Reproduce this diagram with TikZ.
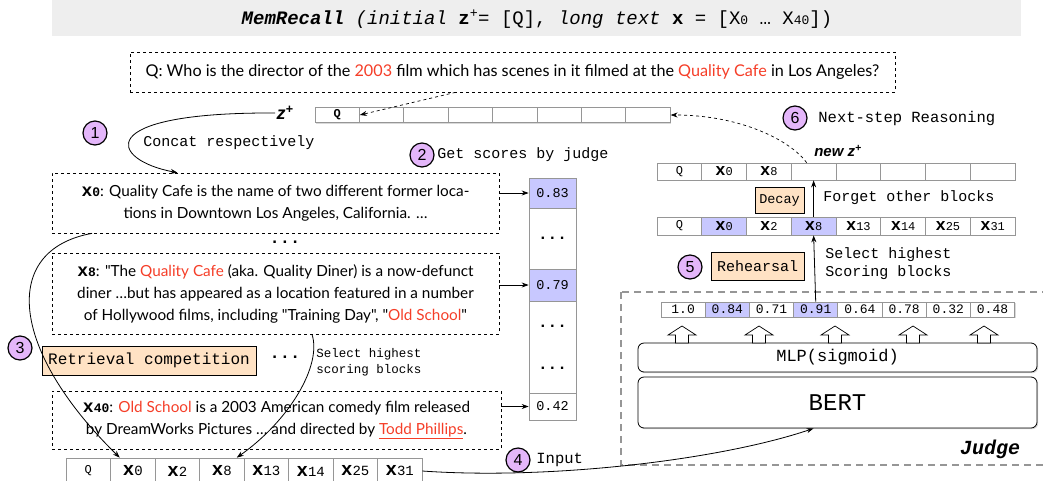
\documentclass[tikz,border=0pt]{standalone}
\usepackage{fontspec}
\setmainfont{Lato}
\setsansfont{Liberation Sans}
\setmonofont{Liberation Mono}
\newfontfamily\bodyfont{Lato}
\usetikzlibrary{arrows.meta,shadows}
\definecolor{qred}{RGB}{245,62,40}
\definecolor{lav}{RGB}{200,200,255}
\definecolor{peach}{RGB}{255,226,196}
\definecolor{stepfill}{RGB}{228,182,250}
\definecolor{titlegray}{RGB}{238,238,238}
\definecolor{cellgray}{RGB}{150,150,150}
\newcommand{\fsz}[1]{\fontsize{#1}{#1}\selectfont}
\newcommand{\xtok}[1]{{\ttfamily{\bfseries\fsz{17}x}{\fsz{12}#1}}}
\newcommand{\xbig}[1]{{\ttfamily{\bfseries\fsz{19}x}{\fsz{14}#1}}}
\newcommand{\xlab}[1]{{\ttfamily\bfseries{\fsz{18}x}{\fsz{13}#1}}}
\begin{document}
\begin{tikzpicture}[x=1pt,y=-1pt,line width=0.8pt,>={Stealth[length=7pt,width=5pt]},
    cell/.style={draw=cellgray,line width=0.7pt,fill=white,inner sep=0pt,
      minimum width=44.5pt,minimum height=17pt,font=\ttfamily\fsz{12}},
    shade/.style={drop shadow={shadow xshift=1.2pt,shadow yshift=-1.2pt,opacity=0.3}},
    txtbox/.style={draw,dashed,line width=0.7pt,inner sep=0pt,align=center,
      font=\bodyfont\fontsize{15.3}{22}\selectfont},
    stepnum/.style={circle,draw,line width=1.2pt,fill=stepfill,minimum size=24pt,
      inner sep=0pt,font=\sffamily\fsz{16}},
    note/.style={anchor=west,inner sep=0pt,font=\ttfamily\fsz{15}},
    tag/.style={draw,line width=0.8pt,fill=peach,inner sep=0pt,font=\ttfamily\fsz{15}},
    layer/.style={draw,line width=0.8pt,fill=white,rounded corners=6pt,
      minimum width=399pt,shade}]
\useasboundingbox (0,0) rectangle (1043,480);

% title
\fill[titlegray] (52,0) rectangle (1021,36);
\node[font=\ttfamily\fsz{19}] (title) at (537,19) {{\bfseries\itshape MemRecall} {\itshape(initial} {\bfseries z}\textsuperscript{+}= [Q], {\itshape long text} {\bfseries x} = [X{\fsz{13}0} … X{\fsz{13}40}])};

% question and memory z+
\node[txtbox,minimum width=765pt,minimum height=40pt,font=\bodyfont\fsz{16.2}] (qbox) at (512.5,72) {Q: Who is the director of the \textcolor{qred}{2003} film which has scenes in it filmed at the \textcolor{qred}{Quality Cafe} in Los Angeles?};
\node[font=\sffamily\bfseries\itshape\fsz{18},inner sep=1pt] (zlab) at (285,113) {z\textsuperscript{+}};
\foreach \i in {1,...,8}
  \node[cell,shade,minimum height=15pt] (zp-\i) at ({315+44.4*(\i-0.5)},115) {\ifnum\i=1 \textbf{Q}\fi};

% long text blocks
\node[txtbox,minimum width=447pt,minimum height=60pt] (x0box) at (275.5,203) {\xlab{0}: Quality Cafe is the name of two different former loca-\\tions in Downtown Los Angeles, California. \ldots};
\node[font=\ttfamily\bfseries\fsz{17}] (dots1) at (285,242) {...};
\node[txtbox,minimum width=447pt,minimum height=81pt] (x8box) at (275.5,293.5) {\xlab{8}: "The \textcolor{qred}{Quality Cafe} (aka. Quality Diner) is a now-defunct\\diner \ldots but has appeared as a location featured in a number\\of Hollywood films, including "Training Day", "\textcolor{qred}{Old School}"};
\node[tag,minimum width=214pt,minimum height=29pt,font=\ttfamily\fsz{16}] (retr) at (149,360.5) {Retrieval competition};
\node[font=\ttfamily\bfseries\fsz{17}] (dots2) at (285,357) {...};
\node[note,align=left,font=\ttfamily\fontsize{12.5}{16}\selectfont] (selL) at (316,362) {Select highest\\scoring blocks};
\node[txtbox,minimum width=449pt,minimum height=58pt] (x40box) at (276.5,420) {\xlab{40}: \textcolor{qred}{Old School} is a 2003 American comedy film released\\by DreamWorks Pictures \ldots\ and directed by \textcolor{qred}{\underline{Todd Phillips}}.};

% scores column
\begin{scope}[every node/.style={cell,shade,minimum width=47pt,font=\ttfamily\fsz{13.5}}]
\node[fill=lav,minimum height=30pt] (s1) at (552.5,193) {0.83};
\node[minimum height=61pt,font=\ttfamily\bfseries\fsz{16}] (s2) at (552.5,238.5) {...};
\node[fill=lav,minimum height=32pt] (s3) at (552.5,285) {0.79};
\node[minimum height=92pt,align=center,font=\ttfamily\bfseries\fontsize{16}{42}\selectfont] (s4) at (552.5,347) {...\\...};
\node[minimum height=27pt] (s5) at (552.5,406.5) {0.42};
\end{scope}

% retrieved input
\foreach \t [count=\i] in {Q,\xbig{0},\xbig{2},\xbig{8},\xbig{13},\xbig{14},\xbig{25},\xbig{31}}
  \node[cell,shade,minimum height=26pt] (bot-\i) at ({66+44.5*(\i-0.5)},471) {\t};

% judge
\draw[cellgray,line width=1.5pt,dash pattern=on 7pt off 5pt] (621,292) rectangle (1046,465);
\node[font=\ttfamily\bfseries\itshape\fsz{20}] (judge) at (990,449) {Judge};
\node[layer,minimum height=51pt,font=\ttfamily\fsz{24}] (bert) at (837.5,402.5) {BERT};
\node[layer,minimum height=29pt,font=\ttfamily\fsz{17}] (mlp) at (837.5,357.5) {MLP(sigmoid)};
\foreach \x in {682,759,835,913,984}
  \draw[fill=white,line width=0.7pt] (\x,326) -- ({\x+14},335) -- ({\x+6.5},335) -- ({\x+6.5},343)
    -- ({\x-6.5},343) -- ({\x-6.5},335) -- ({\x-14},335) -- cycle;
\foreach \t/\c [count=\i] in {1.0/white,0.84/lav,0.71/white,0.91/lav,0.64/white,0.78/white,0.32/white,0.48/white}
  \node[cell,shade,fill=\c,minimum width=44.2pt,minimum height=15pt,font=\ttfamily\fsz{13}] (sc-\i) at ({661+44.2*(\i-0.5)},309.5) {\t};

% rehearsal and decay
\foreach \t/\c [count=\i] in {Q/white,\xtok{0}/lav,\xtok{2}/white,\xtok{8}/lav,\xtok{13}/white,\xtok{14}/white,\xtok{25}/white,\xtok{31}/white}
  \node[cell,shade,fill=\c,minimum width=44.75pt,minimum height=18pt] (sel-\i) at ({657+44.75*(\i-0.5)},226) {\t};
\foreach \t [count=\i] in {Q,\xtok{0},\xtok{8},{},{},{},{},{}}
  \node[cell,shade,minimum width=44.75pt] (nz-\i) at ({657+44.75*(\i-0.5)},171.5) {\t};
\node[font=\sffamily\bfseries\itshape\fsz{15}] (newz) at (838,151) {new z\textsuperscript{+}};
\node[tag,minimum width=93pt,minimum height=28pt] (reh) at (757.5,266) {Rehearsal};
\node[tag,minimum width=49pt,minimum height=26pt,font=\ttfamily\fsz{13.5}] (decay) at (779.5,200) {Decay};
\node[note] (forget) at (823,198) {Forget other blocks};
\node[note,align=left,font=\ttfamily\fontsize{15}{18}\selectfont] (selR) at (825,264) {Select highest\\Scoring blocks};

% step numbers and notes
\node[stepnum] (n1) at (95,133) {1};
\node[note] (concat) at (143,143) {Concat respectively};
\node[stepnum] (n2) at (422,155) {2};
\node[note] (getsc) at (437,155) {Get scores by judge};
\node[stepnum] (n3) at (20,348) {3};
\node[stepnum] (n4) at (518,460) {4};
\node[note,font=\ttfamily\fsz{15.5}] (inp) at (536,460) {Input};
\node[stepnum] (n5) at (690,267) {5};
\node[stepnum] (n6) at (795,118) {6};
\node[note,font=\ttfamily\fsz{15.5}] (nxt) at (818,118) {Next-step Reasoning};

% connectors
\draw[dashed,->,line width=0.7pt] ([xshift=-57pt]qbox.south) -- (zp-1.east);
\draw[->] (zlab.west) .. controls (90,112) and (110,160) .. ([xshift=-98pt]x0box.north);
\draw[->] (x0box.east |- s1.west) -- (s1.west);
\draw[->] (x8box.east |- s3.west) -- (s3.west);
\draw[->] (x40box.east |- s5.west) -- (s5.west);
\draw[->] ([xshift=-183.5pt]x0box.south) .. controls (0,250) and (10,350) .. ([xshift=-13pt]bot-2.north);
\draw[->] ([xshift=36.5pt]x8box.south) .. controls (322,365) and (290,420) .. ([xshift=15pt]bot-4.north);
\draw[->] (bot-8.east) .. controls (550,480) and (720,460) .. ([xshift=-24pt]bert.south);
\draw[->] (sc-4.north) -- (sel-4.south);
\draw[->] (sel-4.north) -- (nz-4.south);
\draw[dashed,->,line width=0.7pt] ([xshift=-7pt]nz-4.north) .. controls (790,140) and (740,115) .. (zp-8.east);
\end{tikzpicture}
\end{document}
